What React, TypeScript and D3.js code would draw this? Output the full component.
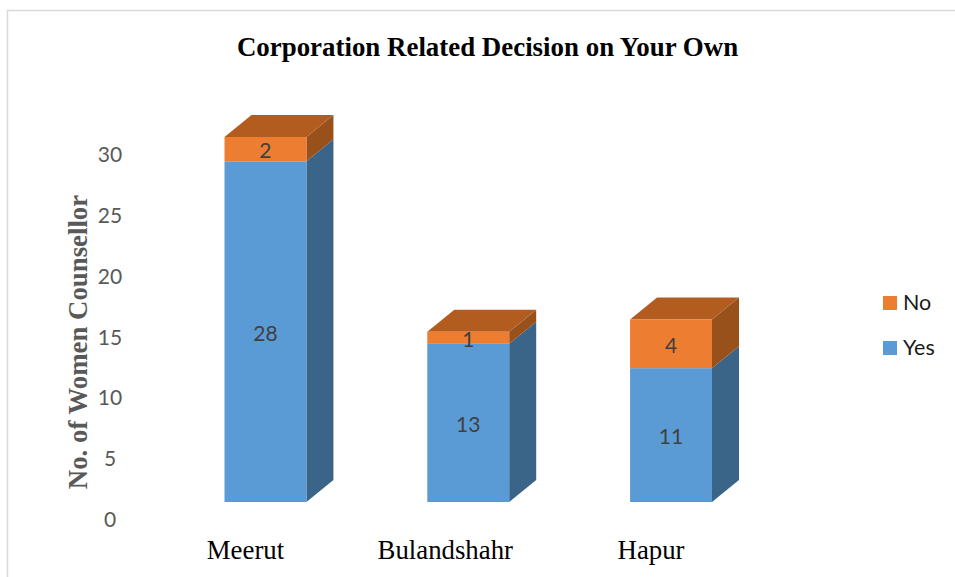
import React from "react";
import * as d3 from "d3";

const categories = ["Meerut", "Bulandshahr", "Hapur"];
const yesValues = [28, 13, 11];
const noValues = [2, 1, 4];
const yTicks = [0, 5, 10, 15, 20, 25, 30];
const titleText = "Corporation Related Decision on Your Own";
const yTitle = "No. of Women Counsellor";
const legendItems = [
  { label: "No", color: "#ed7d31" },
  { label: "Yes", color: "#5b9bd5" },
];

const W = 955;
const H = 577;
const DX = 27;
const DY = 22;
const y = d3.scaleLinear().domain([0, 30]).range([502, 137]);
const x = d3.scaleBand<string>().domain(categories).range([224.5, 712]).paddingInner(0.596).paddingOuter(0);

const serif = "'Liberation Serif', serif";
const sans = "Lato, 'Open Sans', sans-serif";

function Block({ name, from, to, front, side, top, label }: any) {
  const x0 = x(name)!;
  const x1 = x0 + x.bandwidth();
  const y0 = y(from);
  const y1 = y(to);
  const poly = (pts: number[][]) => {
    const p = d3.path();
    pts.forEach((q, i) => (i ? p.lineTo(q[0], q[1]) : p.moveTo(q[0], q[1])));
    p.closePath();
    return p.toString();
  };
  return (
    <g>
      <path d={poly([[x1, y0], [x1 + DX, y0 - DY], [x1 + DX, y1 - DY], [x1, y1]])} fill={side} />
      {top && <path d={poly([[x0, y1], [x0 + DX, y1 - DY], [x1 + DX, y1 - DY], [x1, y1]])} fill={top} />}
      <rect x={x0} y={y1} width={x1 - x0} height={y0 - y1} fill={front} />
      <text x={(x0 + x1) / 2} y={(y0 + y1) / 2 + 9} textAnchor="middle" fontFamily={sans} fontSize={21} fill="#404040">{label}</text>
    </g>
  );
}

export default function App() {
  return (
    <svg width={W} height={H} viewBox={`0 0 ${W} ${H}`} style={{ position: "absolute", left: 0, top: 0, background: "#fff" }}>
      <path d={`M7.5 577V10.5H955`} fill="none" stroke="#d9d9d9" strokeWidth={1.5} />
      <text x={487.5} y={56} textAnchor="middle" fontFamily={serif} fontWeight="bold" fontSize={26.9} fill="#000">{titleText}</text>
      <text transform="translate(87,342) rotate(-90)" textAnchor="middle" fontFamily={serif} fontWeight="bold" fontSize={26.8} fill="#595959">{yTitle}</text>
      {yTicks.map((t) => (
        <text key={t} x={110} y={y(t) + 25} textAnchor="middle" fontFamily={sans} fontSize={21} fill="#595959">{t}</text>
      ))}
      {categories.map((c, i) => (
        <g key={c}>
          <Block name={c} from={0} to={yesValues[i]} front="#5b9bd5" side="#3b6588" label={yesValues[i]} />
          <Block name={c} from={yesValues[i]} to={yesValues[i] + noValues[i]} front="#ed7d31" side="#99511c" top="#b35c20" label={noValues[i]} />
        </g>
      ))}
      {categories.map((c) => (
        <text key={c} x={x(c)! + x.bandwidth() / 2 - (c === "Bulandshahr" ? 23 : 20)} y={559} textAnchor="middle" fontFamily={serif} fontSize={26.8} fill="#000">{c}</text>
      ))}
      {legendItems.map((l, i) => (
        <g key={l.label}>
          <rect x={883} y={296 + i * 45} width={14} height={14} fill={l.color} />
          <text x={903} y={310 + i * 45} fontFamily={sans} fontSize={21.5} fill="#1a1a1a">{l.label}</text>
        </g>
      ))}
    </svg>
  );
}
